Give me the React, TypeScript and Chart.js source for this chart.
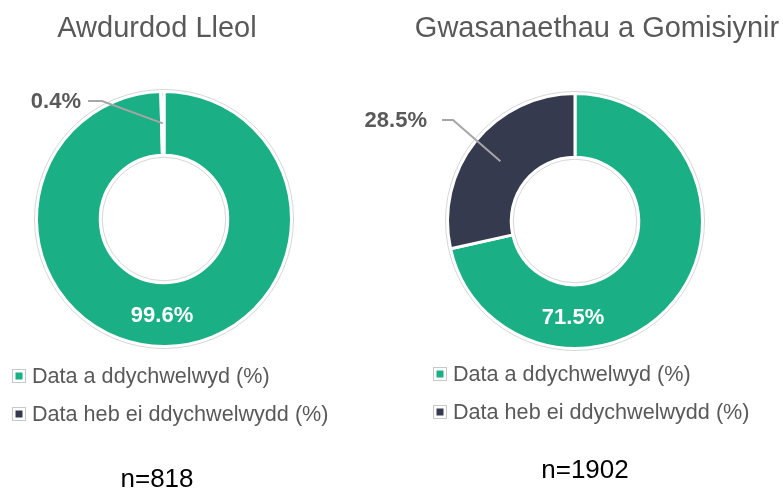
import React, { useEffect, useRef } from "react";
import { Chart, registerables } from "chart.js";

Chart.register(...registerables);

// ---- Data ----
const categories = ["Data a ddychwelwyd (%)", "Data heb ei ddychwelwydd (%)"];
const leftTitle = "Awdurdod Lleol";
const leftValues = [99.6, 0.4];
const leftN = "n=818";
const rightTitle = "Gwasanaethau a Gomisiynir";
const rightValues = [71.5, 28.5];
const rightN = "n=1902";
const sliceColors = ["#1aaf84", "#363a4f"];

const W = 783;
const H = 489;
const FONT = '"Liberation Sans", Arial, Helvetica, sans-serif';
const GREY = "#595959";

type Panel = {
  title: string;
  values: number[];
  n: string;
  padding: { left: number; top: number; right: number; bottom: number };
  titleX: number;
  titleBaseline: number;
  legendX: number;
  legendY: number;
  nX: number;
  nBaseline: number;
  leader: { elbowDx: number; elbowDy: number; endDx: number; textDx: number };
};

const panels: Panel[] = [
  {
    title: leftTitle,
    values: leftValues,
    n: leftN,
    padding: { left: 35, top: 90, right: 490, bottom: 141 },
    titleX: 157,
    titleBaseline: 37,
    legendX: 12,
    legendY: 369,
    nX: 157,
    nBaseline: 487,
    leader: { elbowDx: -62, elbowDy: -118, endDx: -76, textDx: -83 },
  },
  {
    title: rightTitle,
    values: rightValues,
    n: rightN,
    padding: { left: 446, top: 92, right: 79, bottom: 139 },
    titleX: 597,
    titleBaseline: 37,
    legendX: 433,
    legendY: 367,
    nX: 585,
    nBaseline: 478,
    leader: { elbowDx: -122, elbowDy: -101, endDx: -133, textDx: -148 },
  },
];

const fmt = (v: number) => v.toFixed(1) + "%";

function makePlugin(panel: Panel) {
  return {
    id: "decor",
    afterDraw(chart: any) {
      const ctx: CanvasRenderingContext2D = chart.ctx;
      const meta = chart.getDatasetMeta(0);
      const arcs = meta.data as any[];
      const bw = 3;
      const p0 = arcs[0].getProps(["x", "y", "innerRadius", "outerRadius"], true);
      const cx = p0.x;
      const cy = p0.y;
      const outer = p0.outerRadius;
      const inner = p0.innerRadius;
      const midR = (outer + inner) / 2;

      ctx.save();
      // faint outlines
      ctx.strokeStyle = "rgba(0,0,0,0.16)";
      ctx.lineWidth = 1;
      ctx.beginPath();
      ctx.arc(cx, cy, outer + bw / 2 + 0.5, 0, Math.PI * 2);
      ctx.stroke();
      ctx.beginPath();
      ctx.arc(cx, cy, inner - bw / 2 - 0.5, 0, Math.PI * 2);
      ctx.stroke();

      // title
      ctx.fillStyle = GREY;
      ctx.font = `29px ${FONT}`;
      ctx.textAlign = "center";
      ctx.textBaseline = "alphabetic";
      ctx.fillText(panel.title, panel.titleX, panel.titleBaseline);

      // inside label of first slice (bottom of ring)
      ctx.fillStyle = "#ffffff";
      ctx.font = `bold 22px ${FONT}`;
      ctx.textAlign = "center";
      ctx.textBaseline = "middle";
      ctx.fillText(fmt(panel.values[0]), cx - 2, cy + midR + 1);

      // outside label with leader for second slice
      const p1 = arcs[1].getProps(["startAngle", "endAngle"], true);
      const mid = (p1.startAngle + p1.endAngle) / 2;
      const sx = cx + Math.cos(mid) * midR;
      const sy = cy + Math.sin(mid) * midR;
      const L = panel.leader;
      ctx.strokeStyle = "#a6a6a6";
      ctx.lineWidth = 2;
      ctx.beginPath();
      ctx.moveTo(sx, sy);
      ctx.lineTo(cx + L.elbowDx, cy + L.elbowDy);
      ctx.lineTo(cx + L.endDx, cy + L.elbowDy);
      ctx.stroke();
      ctx.fillStyle = GREY;
      ctx.font = `bold 22px ${FONT}`;
      ctx.textAlign = "right";
      ctx.textBaseline = "middle";
      ctx.fillText(fmt(panel.values[1]), cx + L.textDx, cy + L.elbowDy + 1);

      // legend
      const labels: string[] = chart.data.labels;
      labels.forEach((lab, i) => {
        const bx = panel.legendX;
        const by = panel.legendY + i * 38;
        ctx.fillStyle = "#ffffff";
        ctx.fillRect(bx, by, 13, 13);
        ctx.strokeStyle = "#c8c8c8";
        ctx.lineWidth = 1;
        ctx.strokeRect(bx + 0.5, by + 0.5, 13, 13);
        ctx.fillStyle = sliceColors[i];
        ctx.fillRect(bx + 3.5, by + 3.5, 7, 7);
        ctx.fillStyle = GREY;
        ctx.font = `21.6px ${FONT}`;
        ctx.textAlign = "left";
        ctx.textBaseline = "alphabetic";
        ctx.fillText(lab, bx + 20, by + 14);
      });

      // n label
      ctx.fillStyle = "#000000";
      ctx.font = `26px ${FONT}`;
      ctx.textAlign = "center";
      ctx.textBaseline = "alphabetic";
      ctx.fillText(panel.n, panel.nX, panel.nBaseline);
      ctx.restore();
    },
  };
}

function DoughnutPanel({ panel }: { panel: Panel }) {
  const ref = useRef<HTMLCanvasElement | null>(null);
  useEffect(() => {
    if (!ref.current) return;
    const chart = new Chart(ref.current, {
      type: "doughnut",
      data: {
        labels: categories,
        datasets: [
          {
            data: panel.values,
            backgroundColor: sliceColors,
            borderColor: "#ffffff",
            borderWidth: 3,
            hoverOffset: 0,
          },
        ],
      },
      options: {
        responsive: false,
        animation: false,
        events: [],
        cutout: "50%",
        layout: { padding: panel.padding },
        plugins: {
          legend: { display: false },
          tooltip: { enabled: false },
          title: { display: false },
        },
      },
      plugins: [makePlugin(panel)],
    } as any);
    return () => chart.destroy();
  }, [panel]);
  return (
    <canvas
      ref={ref}
      width={W}
      height={H}
      style={{ position: "absolute", left: 0, top: 0, width: W, height: H }}
    />
  );
}

export default function App() {
  return (
    <div
      style={{
        position: "absolute",
        left: 0,
        top: 0,
        width: W,
        height: H,
        background: "#ffffff",
        overflow: "hidden",
      }}
    >
      {panels.map((p, i) => (
        <DoughnutPanel key={i} panel={p} />
      ))}
    </div>
  );
}
